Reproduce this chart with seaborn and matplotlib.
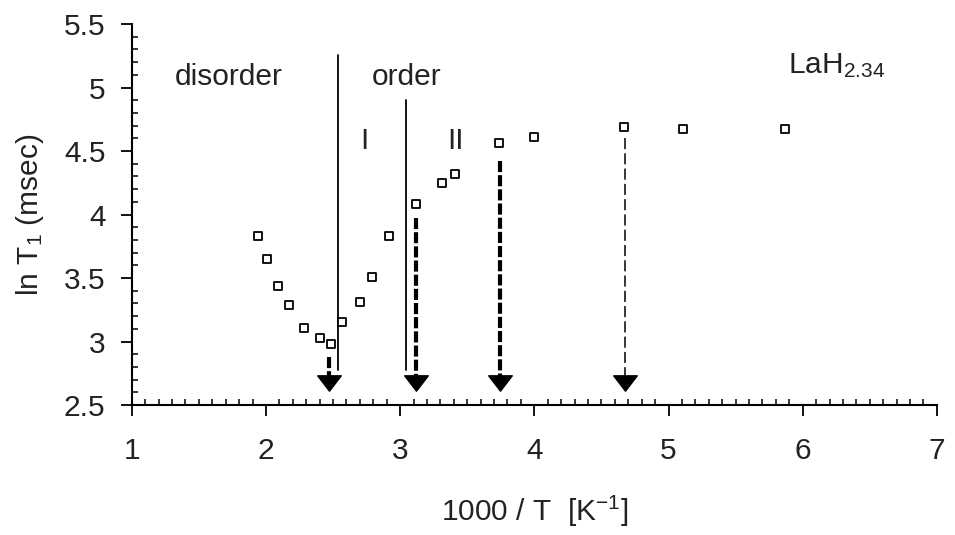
import numpy as np
import seaborn as sns
import matplotlib.pyplot as plt
from matplotlib.path import Path
from matplotlib.ticker import MultipleLocator

# measured points: 1000/T and ln T1
inv_temp = [1.94, 2.01, 2.09, 2.17, 2.28, 2.40, 2.485, 2.57, 2.70, 2.79,
            2.92, 3.12, 3.31, 3.41, 3.74, 4.00, 4.67, 5.11, 5.87]
ln_t1 = [3.83, 3.65, 3.44, 3.29, 3.11, 3.03, 2.98, 3.15, 3.31, 3.51,
         3.83, 4.08, 4.25, 4.32, 4.56, 4.61, 4.69, 4.67, 4.67]

# solid lines marking the order/disorder transitions
trans_x = [2.535, 3.047]
trans_top = [5.26, 4.90]
trans_bottom = 2.776

# dashed arrows
arrow_x = [2.47, 3.12, 3.742, 4.674]
arrow_start = [2.88, 3.97, 4.42, 4.60]
arrow_lw = [3.0, 3.0, 3.0, 1.1]
arrow_dash = [(8, 2.2), (8, 2.2), (8, 2.2), (8, 3)]
head_y = 2.67

sns.set_style("ticks")
plt.rcParams['font.family'] = ['Liberation Sans', 'DejaVu Sans']
plt.rcParams['mathtext.fontset'] = 'custom'
plt.rcParams['mathtext.rm'] = 'Liberation Sans'
plt.rcParams['mathtext.it'] = 'Liberation Sans'
plt.rcParams['lines.scale_dashes'] = False

fig = plt.figure(figsize=(9.55, 5.35), dpi=100)
ax = fig.add_axes([0.138, 0.243, 0.843, 0.712])

txt = '#222222'
fs = 21.5

# vertical transition lines
for x, top in zip(trans_x, trans_top):
    ax.plot([x, x], [trans_bottom, top], color='black', lw=1.3)

# arrows: dashed shaft + flat triangle head
head = Path([(-1, 0.65), (1, 0.65), (0, -0.65), (-1, 0.65)],
            [Path.MOVETO, Path.LINETO, Path.LINETO, Path.CLOSEPOLY])
for x, y0, lw, dash in zip(arrow_x, arrow_start, arrow_lw, arrow_dash):
    line, = ax.plot([x, x], [y0, head_y + 0.04], color='black', lw=lw)
    line.set_dashes(dash)
ax.plot(arrow_x, [head_y] * len(arrow_x), ls='none', marker=head,
        markersize=17, color='black')

sns.scatterplot(x=inv_temp, y=ln_t1, ax=ax, marker='s', s=34,
                color='white', edgecolor='black', linewidth=1.3, zorder=5)

ax.text(1.32, 5.02, 'disorder', fontsize=fs, color=txt)
ax.text(2.788, 5.02, 'order', fontsize=fs, color=txt)
ax.text(2.736, 4.52, 'I', fontsize=fs, color=txt, ha='center')
ax.text(3.41, 4.52, 'II', fontsize=fs, color=txt, ha='center')
ax.text(5.89, 5.114, 'LaH$_{2.34}$', fontsize=fs, color=txt)

ax.set_xlim(1, 7)
ax.set_ylim(2.5, 5.5)
ax.xaxis.set_major_locator(MultipleLocator(1))
ax.xaxis.set_minor_locator(MultipleLocator(0.1))
ax.yaxis.set_major_locator(MultipleLocator(0.5))
ax.yaxis.set_minor_locator(MultipleLocator(0.1))
ax.set_yticks(np.arange(2.5, 5.51, 0.5))
ax.set_yticklabels(['2.5', '3', '3.5', '4', '4.5', '5', '5.5'])

for s in ['top', 'right']:
    ax.spines[s].set_visible(False)
for s in ['left', 'bottom']:
    ax.spines[s].set_linewidth(1.5)
    ax.spines[s].set_color('black')

ax.tick_params(which='major', direction='out', length=8, width=1.3,
               colors='black', labelcolor=txt, labelsize=fs)
ax.tick_params(axis='x', which='major', pad=15)
ax.tick_params(axis='y', which='major', pad=11)
ax.tick_params(which='minor', direction='in', length=4, width=1.1, colors='black')

ax.set_xlabel('1000 / T  [K$^{-1}$]', fontsize=fs, color=txt)
ax.set_ylabel('ln T$_1$ (msec)', fontsize=fs, color=txt)
ax.xaxis.set_label_coords(0.5, -0.28)
ax.xaxis.label.set_va('center')
ax.yaxis.set_label_coords(-0.127, 0.5)
ax.yaxis.label.set_va('center')

fig.savefig('out.png', dpi=100, facecolor='white')
